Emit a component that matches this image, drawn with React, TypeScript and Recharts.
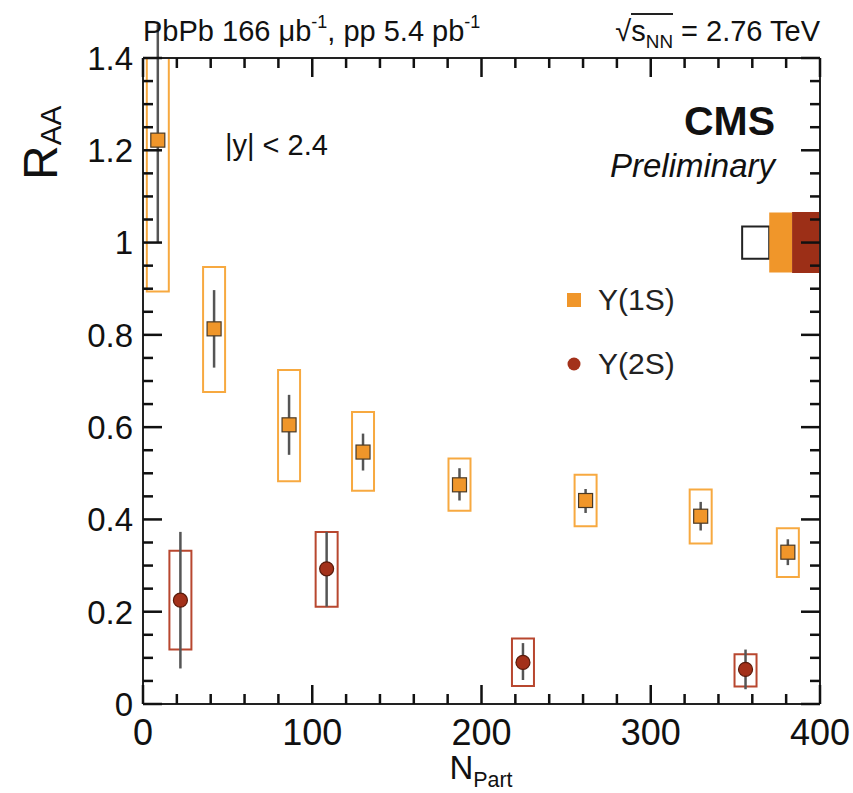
import React from 'react';
import { ComposedChart, Scatter, XAxis, YAxis, ErrorBar, ReferenceArea, Legend } from 'recharts';

const FONT = '"Liberation Sans", Arial, Helvetica, sans-serif';

// Υ(1S): N_part, R_AA, stat [lo, hi], syst [lo, hi]
const npart1S = [8.75, 42, 86.3, 130, 187, 261.5, 329.5, 381];
const raa1S = [1.222, 0.813, 0.605, 0.546, 0.475, 0.441, 0.407, 0.329];
const stat1S = [[0.222, 0.25], [0.084, 0.084], [0.065, 0.065], [0.04, 0.04], [0.034, 0.036], [0.027, 0.025], [0.031, 0.031], [0.028, 0.028]];
const syst1S = [[0.328, 0.35], [0.137, 0.134], [0.122, 0.119], [0.084, 0.087], [0.056, 0.057], [0.056, 0.056], [0.059, 0.058], [0.054, 0.052]];

// Υ(2S)
const npart2S = [22.1, 108.5, 224.5, 356];
const raa2S = [0.225, 0.293, 0.09, 0.075];
const stat2S = [[0.148, 0.148], [0.082, 0.08], [0.038, 0.042], [0.043, 0.043]];
const syst2S = [[0.107, 0.107], [0.082, 0.08], [0.051, 0.052], [0.037, 0.033]];

// global uncertainties at R_AA = 1: pp lumi, Υ(1S), Υ(2S)
const globalUnc = [0.035, 0.065, 0.066];

const seriesNames = ['Υ(1S)', 'Υ(2S)'];
const xTicks = [0, 20, 40, 60, 80, 100, 120, 140, 160, 180, 200, 220, 240, 260, 280, 300, 320, 340, 360, 380, 400];
const yTicks = Array.from({ length: 29 }, (_, i) => +(i * 0.05).toFixed(2));

const ORANGE = '#F0962A';
const ORANGE_BOX = '#F7A940';
const RED = '#A3311A';
const RED_BOX = '#B8472F';
const AXIS = '#222';
const TICK = '#111';

const BOX_HALF = 6.5; // box half width in N_part units
const globalX = [[354, 370], [370, 383.5], [383.5, 400]];
const globalStyle = [
  { fill: '#fff', stroke: '#222' },
  { fill: ORANGE, stroke: ORANGE },
  { fill: '#9C2F17', stroke: '#9C2F17' },
];

const data1S = npart1S.map((x, i) => ({ x, y: raa1S[i], stat: stat1S[i] }));
const data2S = npart2S.map((x, i) => ({ x, y: raa2S[i], stat: stat2S[i] }));

const tickLen = (major: boolean) => (major ? 19 : 10);
const isMajorX = (v: number) => v % 100 === 0;
const isMajorY = (v: number) => Math.round(v * 100) % 20 === 0;

const BottomTick = ({ x, y, payload }: any) => {
  const v = payload.value;
  const major = isMajorX(v);
  return (
    <g>
      <rect x={x - 1.25} y={y - tickLen(major)} width={2.5} height={tickLen(major)} fill={TICK} />
      {major && (
        <text x={x} y={y + 41} textAnchor="middle" fontSize={36} fill="#111" fontFamily={FONT}>{v}</text>
      )}
    </g>
  );
};

const TopTick = ({ x, y, payload }: any) => {
  const len = tickLen(isMajorX(payload.value));
  return <rect x={x - 1.25} y={y} width={2.5} height={len} fill={TICK} />;
};

const LeftTick = ({ x, y, payload }: any) => {
  const v = payload.value;
  const major = isMajorY(v);
  return (
    <g>
      <rect x={x} y={y - 1.25} width={tickLen(major)} height={2.5} fill={TICK} />
      {major && (
        <text x={x - 10} y={y} dy="0.36em" textAnchor="end" fontSize={33} fill="#111" fontFamily={FONT}>
          {String(+v.toFixed(1))}
        </text>
      )}
    </g>
  );
};

const RightTick = ({ x, y, payload }: any) => {
  const len = tickLen(isMajorY(payload.value));
  return <rect x={x - len} y={y - 1.25} width={len} height={2.5} fill={TICK} />;
};

const SquareMarker = ({ cx, cy }: any) => (
  <rect x={cx - 7} y={cy - 7} width={14} height={14} fill={ORANGE} stroke="#4a3a26" strokeWidth={1.2} />
);
const CircleMarker = ({ cx, cy }: any) => (
  <circle cx={cx} cy={cy} r={7} fill={RED} stroke="#5a1a0a" strokeWidth={1.2} />
);

const renderLegend = (props: any) => (
  <div style={{ fontFamily: FONT }}>
    {(props.payload || []).map((p: any) => (
      <div key={p.value} style={{ display: 'flex', alignItems: 'center', height: 64 }}>
        <svg width={20} height={20}>
          {p.type === 'square'
            ? <rect x={3} y={3} width={14} height={14} fill={ORANGE} />
            : <circle cx={10} cy={10} r={6.5} fill={RED} />}
        </svg>
        <span style={{ fontSize: 30, marginLeft: 14, color: '#222' }}>{p.value}</span>
      </div>
    ))}
  </div>
);

const Txt = ({ style, children }: any) => (
  <div style={{ position: 'absolute', fontFamily: FONT, lineHeight: 1, color: '#111', whiteSpace: 'nowrap', ...style }}>
    {children}
  </div>
);
const sup = { fontSize: '0.62em', position: 'relative' as const, top: '-0.75em' };
const sub = { fontSize: '0.65em', position: 'relative' as const, top: '0.35em' };

export default function App() {
  return (
    <div style={{ position: 'absolute', left: 0, top: 0, width: 853, height: 793, background: '#fff' }}>
      <ComposedChart width={853} height={793} margin={{ top: 0, right: 0, bottom: 0, left: 0 }}>
        <XAxis xAxisId="b" dataKey="x" type="number" domain={[0, 400]} ticks={xTicks} interval={0}
          allowDataOverflow orientation="bottom" height={89} tickSize={0} tickMargin={0}
          tick={<BottomTick />} tickLine={false} axisLine={{ stroke: AXIS, strokeWidth: 2 }} />
        <XAxis xAxisId="t" dataKey="x" type="number" domain={[0, 400]} ticks={xTicks} interval={0}
          allowDataOverflow orientation="top" height={58} tickSize={0} tickMargin={0}
          tick={<TopTick />} tickLine={false} axisLine={{ stroke: AXIS, strokeWidth: 2 }} />
        <YAxis yAxisId="l" dataKey="y" type="number" domain={[0, 1.4]} ticks={yTicks} interval={0}
          allowDataOverflow orientation="left" width={143} tickSize={0} tickMargin={0}
          tick={<LeftTick />} tickLine={false} axisLine={{ stroke: AXIS, strokeWidth: 2 }} />
        <YAxis yAxisId="r" dataKey="y" type="number" domain={[0, 1.4]} ticks={yTicks} interval={0}
          allowDataOverflow orientation="right" width={33} tickSize={0} tickMargin={0}
          tick={<RightTick />} tickLine={false} axisLine={{ stroke: AXIS, strokeWidth: 2 }} />

        {globalUnc.map((u, i) => (
          <ReferenceArea key={'g' + i} xAxisId="t" yAxisId="r" x1={globalX[i][0]} x2={globalX[i][1]}
            y1={1 - u} y2={1 + u} ifOverflow="hidden" fill={globalStyle[i].fill} fillOpacity={1}
            stroke={globalStyle[i].stroke} strokeWidth={i === 0 ? 2 : 0} />
        ))}

        {npart1S.map((x, i) => (
          <ReferenceArea key={'s1' + i} xAxisId="b" yAxisId="l" x1={x - BOX_HALF} x2={x + BOX_HALF}
            y1={raa1S[i] - syst1S[i][0]} y2={raa1S[i] + syst1S[i][1]} ifOverflow="hidden"
            fill="none" stroke={ORANGE_BOX} strokeWidth={2} />
        ))}
        {npart2S.map((x, i) => (
          <ReferenceArea key={'s2' + i} xAxisId="b" yAxisId="l" x1={x - BOX_HALF} x2={x + BOX_HALF}
            y1={raa2S[i] - syst2S[i][0]} y2={raa2S[i] + syst2S[i][1]} ifOverflow="hidden"
            fill="none" stroke={RED_BOX} strokeWidth={2} />
        ))}

        <Scatter name={seriesNames[0]} data={data1S} xAxisId="b" yAxisId="l" fill={ORANGE}
          legendType="square" shape={<SquareMarker />} isAnimationActive={false}>
          <ErrorBar dataKey="stat" direction="y" width={0} stroke="#555" strokeWidth={2.5} isAnimationActive={false} />
        </Scatter>
        <Scatter name={seriesNames[1]} data={data2S} xAxisId="b" yAxisId="l" fill={RED}
          legendType="circle" shape={<CircleMarker />} isAnimationActive={false}>
          <ErrorBar dataKey="stat" direction="y" width={0} stroke="#555" strokeWidth={2.5} isAnimationActive={false} />
        </Scatter>

        <Legend layout="vertical" align="center" verticalAlign="middle" content={renderLegend}
          wrapperStyle={{ position: 'absolute', left: 564, top: 268, width: 200, height: 128 }} />
      </ComposedChart>

      <Txt style={{ left: 143, top: 17, fontSize: 29 }}>
        PbPb 166 μb<span style={sup}>-1</span>, pp 5.4 pb<span style={sup}>-1</span>
      </Txt>
      <Txt style={{ right: 33, top: 17, fontSize: 29 }}>
        √<span style={{ borderTop: '2px solid #222' }}>s<span style={sub}>NN</span></span> = 2.76 TeV
      </Txt>
      <Txt style={{ left: 225, top: 131, fontSize: 29 }}>|y| &lt; 2.4</Txt>
      <Txt style={{ right: 78, top: 101, fontSize: 41, fontWeight: 'bold' }}>CMS</Txt>
      <Txt style={{ right: 78, top: 149, fontSize: 33, fontStyle: 'italic' }}>Preliminary</Txt>
      <Txt style={{ left: 381, width: 200, top: 751, fontSize: 33, textAlign: 'center' }}>
        N<span style={sub}>Part</span>
      </Txt>
      <Txt style={{ left: 17, top: 180, fontSize: 48, transformOrigin: 'left top', transform: 'rotate(-90deg)' }}>
        R<span style={{ fontSize: '0.62em', position: 'relative', top: '0.12em' }}>AA</span>
      </Txt>
    </div>
  );
}
